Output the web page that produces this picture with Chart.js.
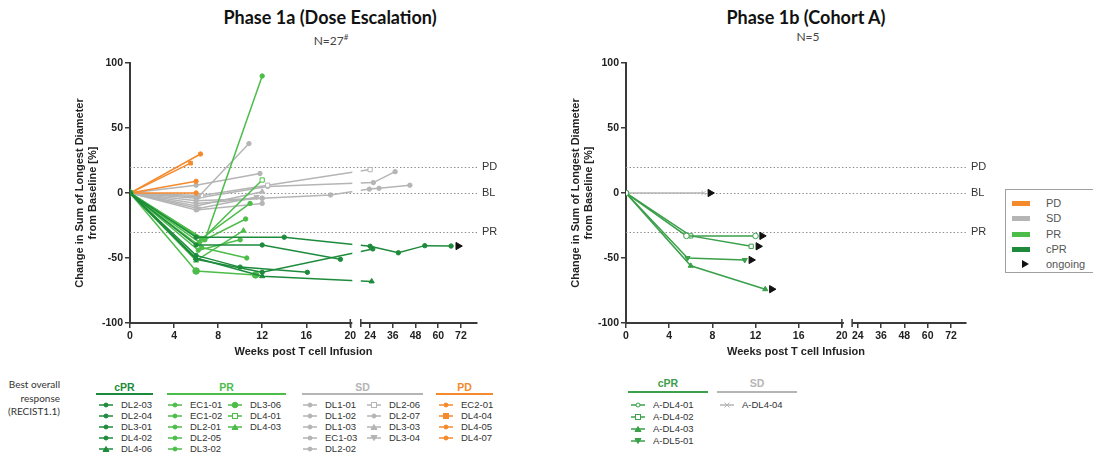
<!DOCTYPE html>
<html>
<head>
<meta charset="utf-8">
<script src="https://cdn.jsdelivr.net/npm/chart.js@4.4.1/dist/chart.umd.min.js"></script>
<style>
  body { margin: 0; width: 1093px; height: 455px; overflow: hidden; background: #fff; position: relative;
         font-family: "Liberation Sans", Arial, sans-serif; }
  .abs { position: absolute; white-space: nowrap; }
  .title { font-family: Lato, sans-serif; font-weight: bold; font-size: 18px; line-height: 20px; color: #111; transform: translateX(-50%); }
  .sub { font-family: Lato, sans-serif; font-size: 12px; line-height: 14px; color: #444; transform: translateX(-50%); }
  .sub sup { font-size: 8px; }
  .cv { position: absolute; top: 0; }
  .lg { font-size: 9.5px; line-height: 11px; color: #333; }
  .lghead { font-size: 10.5px; font-weight: bold; line-height: 12px; text-align: center; }
  .note { font-family: Lato, sans-serif; font-size: 10px; line-height: 13.5px; color: #333; text-align: right; width: 60px; left: 0; }
  #keybox { left: 1005px; top: 189px; width: 100px; height: 82px; border: 1px solid #a0a0a0; background: #fff; }
  .key { position: absolute; left: 6px; font-size: 11px; line-height: 14px; color: #555; }
  .key i { position: absolute; left: 0; top: 4.5px; width: 18px; height: 5px; }
  .key span { position: absolute; left: 34px; top: 0; }
</style>
</head>
<body>
<div class="abs title" style="left:330px;top:7px">Phase 1a (Dose Escalation)</div>
<div class="abs sub" style="left:331px;top:30px">N=27<sup>#</sup></div>
<div class="abs title" style="left:806px;top:7px">Phase 1b (Cohort A)</div>
<div class="abs sub" style="left:808px;top:30px">N=5</div>

<canvas id="left" class="cv" style="left:0px" width="540" height="365"></canvas>
<canvas id="right" class="cv" style="left:496px" width="540" height="365"></canvas>

<div class="abs note" style="top:378px">Best overall<br>response<br>(RECIST1.1)</div>

<div id="keybox" class="abs">
  <div class="key" style="top:6px"><i style="background:#f58a2c"></i><span>PD</span></div>
  <div class="key" style="top:21px"><i style="background:#b5b5b5"></i><span>SD</span></div>
  <div class="key" style="top:37px"><i style="background:#4dbd4a"></i><span>PR</span></div>
  <div class="key" style="top:52px"><i style="background:#1e8b3c"></i><span>cPR</span></div>
  <div class="key" style="top:67px"><svg width="18" height="14" style="position:absolute;left:0;top:0"><polygon points="10,3 10,11 17,7" fill="#111"/></svg><span>ongoing</span></div>
</div>

<script>
// ---- Phase 1a data (weeks / % change) ----
const cprIds = ['DL2-03', 'DL2-04', 'DL3-01', 'DL4-02', 'DL4-06'];
const cprWeeks = [[0, 6, 14, 24, 38.9, 52.9, 66.8], [0, 6, 12, 19.1], [0, 6, 10, 16.1], [0, 6, 12, 25.4], [0, 6, 12, 24.8]];
const cprValues = [[0, -34, -34, -41, -46, -40.5, -40.8], [0, -40, -40, -51], [0, -48, -57, -61], [0, -51, -61, -43], [0, -50, -64, -68]];
const cprMarkers = ['circle', 'circle', 'circle', 'circle', 'triangle'];

const prIds = ['EC1-01', 'EC1-02', 'DL2-01', 'DL2-05', 'DL3-02', 'DL3-06', 'DL4-01', 'DL4-03'];
const prWeeks = [[0, 6.8, 12], [0, 6.5, 10.9], [0, 6.3, 10.5], [0, 6.2, 10], [0, 6.5, 10.6], [0, 6, 11.4], [0, 6.5, 12], [0, 6, 10.3]];
const prValues = [[0, -36, 90], [0, -35, -8], [0, -38, -20], [0, -44, -36], [0, -42, -50], [0, -60, -63], [0, -36, 10], [0, -52, -29]];
const prMarkers = ['circle', 'circle', 'circle', 'circle', 'circle', 'bigcircle', 'openrect', 'triangle'];

const sdIds = ['DL1-01', 'DL1-02', 'DL1-03', 'EC1-03', 'DL2-02', 'DL2-06', 'DL2-07', 'DL3-03', 'DL3-04'];
const sdWeeks = [[0, 6.2, 10.8], [0, 6, 11.8], [0, 6, 12], [0, 6, 12], [0, 6, 12, 18.2, 23.6, 28.7, 45], [0, 6.5, 12.5, 24], [0, 6, 12.5, 25.7, 37.2], [0, 6, 12], [0, 6.2, 11.5]];
const sdValues = [[0, -3, 38], [0, 6, 15], [0, -6, -4], [0, -13, -8], [0, -8, -4, -1.5, 3, 3.6, 6], [0, -2, 6, 18], [0, -4, 5, 8, 16.4], [0, -10, 1], [0, -12, -3]];
const sdMarkers = ['circle', 'circle', 'circle', 'circle', 'circle', 'openrect', 'circle', 'triangle', 'invtriangle'];

const pdIds = ['EC2-01', 'DL4-04', 'DL4-05', 'DL4-07'];
const pdWeeks = [[0, 6.4], [0, 5.5], [0, 6], [0, 6]];
const pdValues = [[0, 30], [0, 23], [0, 9], [0, 0]];
const pdMarkers = ['circle', 'rect', 'circle', 'circle'];

const ongoingWeeksA = [70.5];
const ongoingValuesA = [-40.8];

// ---- Phase 1b data ----
const cohortIds = ['A-DL4-01', 'A-DL4-02', 'A-DL4-03', 'A-DL5-01'];
const cohortWeeks = [[0, 5.6, 12], [0, 6, 11.6], [0, 6, 12.9], [0, 5.7, 11]];
const cohortValues = [[0, -33, -33], [0, -33, -41], [0, -56, -74], [0, -50, -51.5]];
const cohortMarkers = ['opencircle', 'openrect', 'triangle', 'invtriangle'];
const cohortSdIds = ['A-DL4-04'];
const cohortSdWeeks = [[0, 7.2]];
const cohortSdValues = [[0, 0]];
const cohortSdMarkers = ['bowtie'];
const ongoingWeeksB = [7.8, 12.6, 12.25, 13.5, 11.6];
const ongoingValuesB = [0, -33, -41, -74, -51.5];

// axis
const weekTicks = [0, 4, 8, 12, 16, 20, 24, 36, 48, 60, 72];
const thresholdValues = [20, 0, -30];
const thresholdLabels = ['PD', 'BL', 'PR'];

const axisColor = '#3a3a3a';
const cprColor = '#1e8b3c', prColor = '#4dbd4a', sdColor = '#b5b5b5', pdColor = '#f58a2c', cohortColor = '#3aa04a';

// broken x axis: 0-20 weeks linear, then 24-72 compressed into the right end
function makeBreak(start24, perWeek) {
  return w => (w <= 20 ? w : start24 + (w - 24) * perWeek);
}
const brkA = makeBreak(21.8, 0.1717);
const brkB = makeBreak(21.47, 0.18);

function markerStyle(name) {
  switch (name) {
    case 'bigcircle': return { style: 'circle', rot: 0, r: 3.3, open: false };
    case 'opencircle': return { style: 'circle', rot: 0, r: 2.8, open: true };
    case 'rect': return { style: 'rect', rot: 0, r: 2.6, open: false };
    case 'openrect': return { style: 'rect', rot: 0, r: 3, open: true };
    case 'triangle': return { style: 'triangle', rot: 0, r: 3, open: false };
    case 'invtriangle': return { style: 'triangle', rot: 180, r: 3, open: false };
    case 'bowtie': return { style: 'crossRot', rot: 0, r: 3, open: false };
    default: return { style: 'circle', rot: 0, r: 2.2, open: false };
  }
}

function series(brk, ids, weeks, values, markers, color) {
  return ids.map((id, i) => {
    const m = markerStyle(markers[i]);
    return {
      label: id,
      data: weeks[i].map((w, j) => ({ x: brk(w), y: values[i][j] })),
      borderColor: color,
      backgroundColor: color,
      borderWidth: 1.5,
      pointStyle: m.style,
      pointRotation: m.rot,
      pointRadius: m.r,
      pointBackgroundColor: m.open ? '#fff' : color,
      pointBorderColor: color,
      pointBorderWidth: 1,
      tension: 0
    };
  });
}

function ongoing(brk, weeks, values) {
  return {
    label: 'ongoing',
    data: weeks.map((w, i) => ({ x: brk(w), y: values[i] })),
    showLine: false,
    pointStyle: 'triangle',
    pointRotation: 90,
    pointRadius: 4.2,
    pointBackgroundColor: '#111',
    pointBorderColor: '#111',
    order: -1
  };
}

function drawThresholdLines(chart, x0, x1) {
  const { ctx, chartArea: a, scales: { y } } = chart;
  ctx.save();
  ctx.beginPath();
  ctx.rect(x0, 0, x1 - x0, chart.height);
  ctx.clip();
  ctx.strokeStyle = '#8a8a8a';
  ctx.lineWidth = 1.2;
  ctx.setLineDash([1.4, 2.2]);
  thresholdValues.forEach(v => {
    const py = Math.round(y.getPixelForValue(v)) + 0.5;
    ctx.beginPath();
    ctx.moveTo(a.left, py);
    ctx.lineTo(a.right, py);
    ctx.stroke();
  });
  ctx.restore();
}

const brokenAxis = {
  id: 'brokenAxis',
  beforeDatasetsDraw(chart) {
    const { ctx, chartArea: a, scales: { y } } = chart;
    drawThresholdLines(chart, a.left, a.right + 1);
    ctx.save();
    ctx.fillStyle = '#333';
    ctx.font = '11px "Liberation Sans", Arial, sans-serif';
    ctx.textBaseline = 'middle';
    thresholdValues.forEach((v, i) => ctx.fillText(thresholdLabels[i], a.right + 5, y.getPixelForValue(v)));
    ctx.restore();
  },
  afterDatasetsDraw(chart) {
    const { ctx, chartArea: a, scales: { x } } = chart;
    const g0 = x.getPixelForValue(20) + 2, g1 = x.getPixelForValue(20.95);
    ctx.save();
    ctx.fillStyle = '#fff';
    ctx.fillRect(g0, a.top - 6, g1 - g0, a.bottom - a.top + 8);
    ctx.restore();
    drawThresholdLines(chart, g0, g1);
    ctx.save();
    ctx.strokeStyle = axisColor;
    ctx.lineWidth = 1.5;
    [x.getPixelForValue(20), g1].forEach(px => {
      ctx.beginPath();
      ctx.moveTo(px, a.bottom - 4);
      ctx.lineTo(px, a.bottom + 4);
      ctx.stroke();
    });
    ctx.restore();
  }
};

const tickFont = { family: '"Liberation Sans", Arial, sans-serif', size: 10.5, weight: 'bold' };
const titleFont = { family: '"Liberation Sans", Arial, sans-serif', size: 11, weight: 'bold', lineHeight: 1.2 };

function makeChart(id, brk, datasets, rightPad) {
  return new Chart(document.getElementById(id), {
    type: 'line',
    data: { datasets },
    options: {
      responsive: false,
      animation: false,
      devicePixelRatio: 1,
      layout: { padding: { left: 0, top: 63, right: rightPad, bottom: 0 } },
      plugins: { legend: { display: false }, tooltip: { enabled: false } },
      scales: {
        x: {
          type: 'linear', min: 0, max: 31.5,
          afterFit: s => { s.height = 42; },
          afterBuildTicks: s => { s.ticks = weekTicks.map(w => ({ value: brk(w) })); },
          ticks: { autoSkip: false, maxRotation: 0, padding: 2, color: '#222', font: tickFont,
                   callback: (v, i) => weekTicks[i] },
          grid: { drawOnChartArea: false, tickLength: 5, color: axisColor, lineWidth: 1.5 },
          border: { color: axisColor, width: 2 },
          title: { display: true, text: 'Weeks post T cell Infusion', color: '#222', font: titleFont,
                   padding: { top: 0, bottom: 6.4 } }
        },
        y: {
          min: -100, max: 100,
          afterFit: s => { s.width = 130; },
          ticks: { stepSize: 50, padding: 2, color: '#222', font: tickFont },
          grid: { drawOnChartArea: false, tickLength: 5, color: axisColor, lineWidth: 1.5 },
          border: { color: axisColor, width: 2 },
          title: { display: true, text: ['Change in Sum of Longest Diameter', 'from Baseline [%]'], color: '#222',
                   font: titleFont, padding: { top: 73.4, bottom: 0 } }
        }
      }
    },
    plugins: [brokenAxis]
  });
}

makeChart('left', brkA, [
  ongoing(brkA, ongoingWeeksA, ongoingValuesA),
  ...series(brkA, cprIds, cprWeeks, cprValues, cprMarkers, cprColor),
  ...series(brkA, prIds, prWeeks, prValues, prMarkers, prColor),
  ...series(brkA, pdIds, pdWeeks, pdValues, pdMarkers, pdColor),
  ...series(brkA, sdIds, sdWeeks, sdValues, sdMarkers, sdColor)
], 63);

makeChart('right', brkB, [
  ongoing(brkB, ongoingWeeksB, ongoingValuesB),
  ...series(brkB, cohortIds, cohortWeeks, cohortValues, cohortMarkers, cohortColor),
  ...series(brkB, cohortSdIds, cohortSdWeeks, cohortSdValues, cohortSdMarkers, sdColor)
], 70);

// ---- bottom legends ----
function markerSvg(color, name) {
  const m = markerStyle(name);
  const f = m.open ? '#fff' : color;
  let shape;
  if (m.style === 'rect') shape = `<rect x="4.5" y="1.5" width="5" height="5" fill="${f}" stroke="${color}"/>`;
  else if (m.style === 'triangle' && m.rot) shape = `<polygon points="4,1.5 10,1.5 7,6.5" fill="${f}" stroke="${color}"/>`;
  else if (m.style === 'triangle') shape = `<polygon points="4,6.5 10,6.5 7,1.5" fill="${f}" stroke="${color}"/>`;
  else if (m.style === 'crossRot') shape = `<path d="M4.5 1.5 L9.5 6.5 M9.5 1.5 L4.5 6.5" stroke="${color}"/>`;
  else shape = `<circle cx="7" cy="4" r="${m.r > 3 ? 2.8 : 2}" fill="${f}" stroke="${color}"/>`;
  return `<svg width="14" height="8" style="position:absolute;left:0;top:2px"><line x1="0" y1="4" x2="14" y2="4" stroke="${color}" stroke-width="1.5"/>${shape}</svg>`;
}

function addGroup(g) {
  const head = document.createElement('div');
  head.className = 'abs lghead';
  head.style.cssText = `left:${g.x0}px;width:${g.x1 - g.x0}px;top:${g.headY - 6}px;color:${g.color}`;
  head.textContent = g.title;
  document.body.appendChild(head);
  const rule = document.createElement('div');
  rule.className = 'abs';
  rule.style.cssText = `left:${g.x0}px;width:${g.x1 - g.x0}px;top:${g.lineY - 1}px;height:2px;background:${g.color}`;
  document.body.appendChild(rule);
  let k = 0;
  g.cols.forEach((n, c) => {
    for (let r = 0; r < n; r++, k++) {
      const it = document.createElement('div');
      it.className = 'abs lg';
      it.style.cssText = `left:${g.colX[c]}px;top:${g.rowY + r * g.rowH - 5.5}px;padding-left:${g.textGap}px`;
      it.innerHTML = markerSvg(g.color, g.markers[k]) + g.ids[k];
      document.body.appendChild(it);
    }
  });
}

const leftRows = { headY: 387, lineY: 394, rowY: 404, rowH: 11, textGap: 22 };
addGroup({ ...leftRows, title: 'cPR', color: cprColor, x0: 96, x1: 153, cols: [5], colX: [99], ids: cprIds, markers: cprMarkers });
addGroup({ ...leftRows, title: 'PR', color: prColor, x0: 167, x1: 286, cols: [5, 3], colX: [168, 228], ids: prIds, markers: prMarkers });
addGroup({ ...leftRows, title: 'SD', color: sdColor, x0: 302, x1: 423, cols: [5, 4], colX: [303, 367], ids: sdIds, markers: sdMarkers });
addGroup({ ...leftRows, title: 'PD', color: pdColor, x0: 436, x1: 493, cols: [4], colX: [439], ids: pdIds, markers: pdMarkers });

const rightRows = { headY: 383, lineY: 392, rowY: 404, rowH: 12, textGap: 22 };
addGroup({ ...rightRows, title: 'cPR', color: cohortColor, x0: 628, x1: 708, cols: [4], colX: [631], ids: cohortIds, markers: cohortMarkers });
addGroup({ ...rightRows, title: 'SD', color: sdColor, x0: 717, x1: 797, cols: [1], colX: [720], ids: cohortSdIds, markers: cohortSdMarkers });
</script>
</body>
</html>
